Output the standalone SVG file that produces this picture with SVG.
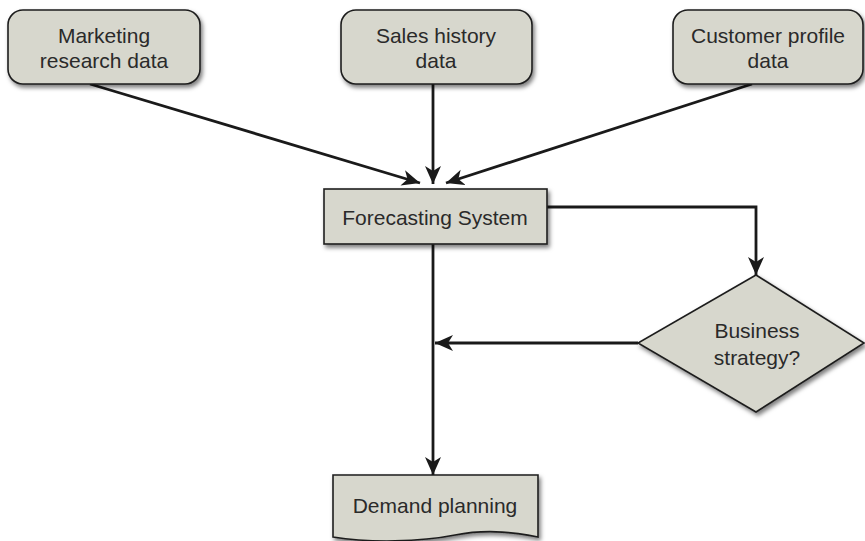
<svg xmlns="http://www.w3.org/2000/svg" width="865" height="541" viewBox="0 0 865 541">
<style>
.node{fill:#d7d7cd;stroke:#1e1e1e;stroke-width:1.6;filter:url(#sh)}
.t{font-family:"Liberation Sans",Arial,sans-serif;font-size:21px;fill:#2a2a2a;text-anchor:middle}
.c{fill:none;stroke:#1a1a1a;stroke-width:2.8}
</style>
<defs>
<filter id="sh" x="-10%" y="-10%" width="130%" height="140%">
<feDropShadow dx="2" dy="3" stdDeviation="2" flood-color="#000" flood-opacity="0.5"/>
</filter>
<marker id="ah" markerUnits="userSpaceOnUse" markerWidth="20" markerHeight="18" refX="18" refY="8" orient="auto">
<path d="M0,0 L18,8 L0,16 L5,8 Z" fill="#1a1a1a"/>
</marker>
</defs>
<g id="connectors">
<path class="c" d="M90,84 L420,183" marker-end="url(#ah)"/>
<path class="c" d="M433,84 L433,184" marker-end="url(#ah)"/>
<path class="c" d="M752,84 L446,183" marker-end="url(#ah)"/>
<path class="c" d="M547,207 L756,207 L756,275" marker-end="url(#ah)"/>
<path class="c" d="M638,343 L435,343" marker-end="url(#ah)"/>
<path class="c" d="M433,244 L433,475" marker-end="url(#ah)"/>
</g>
<g id="marketing">
<rect class="node" x="8" y="10" width="192" height="74" rx="15"/>
<text class="t" x="104" y="43">Marketing</text>
<text class="t" x="104" y="68">research data</text>
</g>
<g id="sales">
<rect class="node" x="341" y="10" width="191" height="74" rx="15"/>
<text class="t" x="436" y="43">Sales history</text>
<text class="t" x="436" y="68">data</text>
</g>
<g id="customer">
<rect class="node" x="673" y="10" width="190" height="74" rx="15"/>
<text class="t" x="768" y="43">Customer profile</text>
<text class="t" x="768" y="68">data</text>
</g>
<g id="forecasting">
<rect class="node" x="324" y="189" width="223" height="55"/>
<text class="t" x="435" y="225">Forecasting System</text>
</g>
<g id="business">
<polygon class="node" points="756,275 864,343 756,412 638,343"/>
<text class="t" x="757" y="338">Business</text>
<text class="t" x="757" y="365">strategy?</text>
</g>
<g id="demand">
<path class="node" d="M333,475 H538 V537 C510,531 480,530 455,535 C420,542 370,543 333,537 Z"/>
<text class="t" x="435" y="513">Demand planning</text>
</g>
</svg>
